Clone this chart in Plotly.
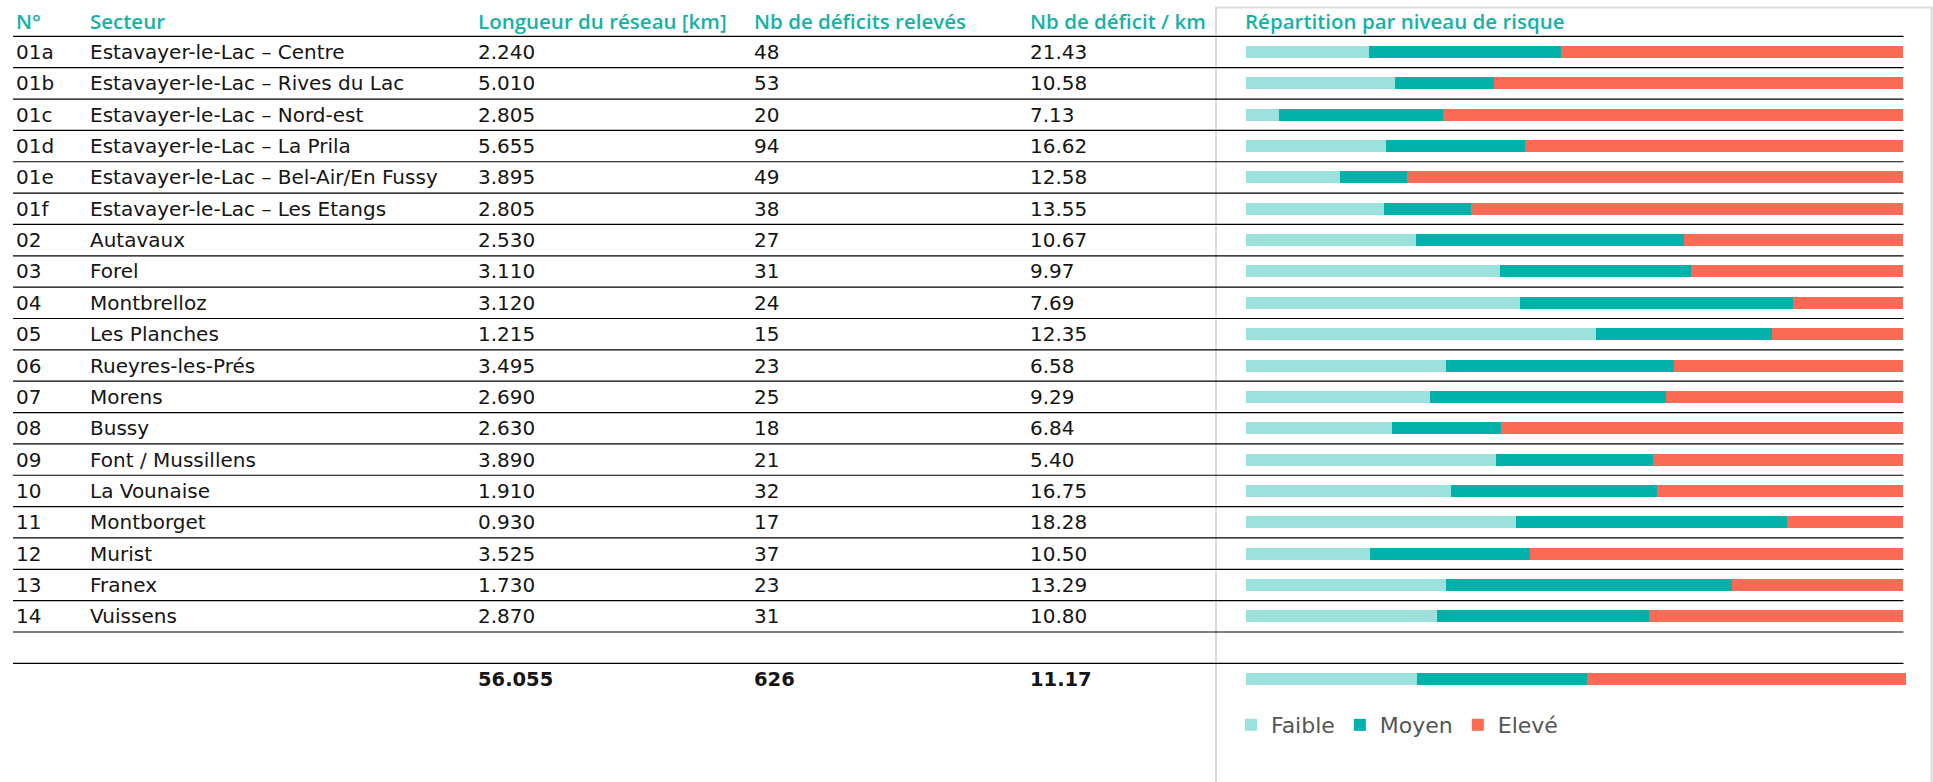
import plotly.graph_objects as go

W, H = 1933, 782

# ---------------- data ----------------
ids = ["01a", "01b", "01c", "01d", "01e", "01f", "02", "03", "04", "05",
       "06", "07", "08", "09", "10", "11", "12", "13", "14"]
sectors = ["Estavayer-le-Lac – Centre", "Estavayer-le-Lac – Rives du Lac",
           "Estavayer-le-Lac – Nord-est", "Estavayer-le-Lac – La Prila",
           "Estavayer-le-Lac – Bel-Air/En Fussy", "Estavayer-le-Lac – Les Etangs",
           "Autavaux", "Forel", "Montbrelloz", "Les Planches", "Rueyres-les-Prés",
           "Morens", "Bussy", "Font / Mussillens", "La Vounaise", "Montborget",
           "Murist", "Franex", "Vuissens"]
lengths_km = [2.240, 5.010, 2.805, 5.655, 3.895, 2.805, 2.530, 3.110, 3.120, 1.215,
              3.495, 2.690, 2.630, 3.890, 1.910, 0.930, 3.525, 1.730, 2.870]
deficits = [48, 53, 20, 94, 49, 38, 27, 31, 24, 15, 23, 25, 18, 21, 32, 17, 37, 23, 31]
deficits_per_km = [21.43, 10.58, 7.13, 16.62, 12.58, 13.55, 10.67, 9.97, 7.69, 12.35,
                   6.58, 9.29, 6.84, 5.40, 16.75, 18.28, 10.50, 13.29, 10.80]
faible = [9, 12, 1, 20, 7, 8, 7, 12, 10, 8, 7, 7, 4, 8, 10, 7, 7, 7, 9]
moyen = [14, 8, 5, 20, 5, 5, 11, 9, 10, 4, 8, 9, 3, 5, 10, 7, 9, 10, 10]
eleve = [25, 33, 14, 54, 37, 25, 9, 10, 4, 3, 8, 9, 11, 8, 12, 3, 21, 6, 12]
total_length = "56.055"
total_deficits = "626"
total_per_km = "11.17"
total_faible, total_moyen, total_eleve = 162, 162, 302

headers = ["N°", "Secteur", "Longueur du réseau [km]", "Nb de déficits relevés",
           "Nb de déficit / km", "Répartition par niveau de risque"]
levels = ["Faible", "Moyen", "Elevé"]
colors = ["#9de1dc", "#02b2aa", "#fa6a55"]

# ---------------- layout geometry (pixels) ----------------
row_h = 31.35
row0 = 52.0
def yval(py):
    return (py - row0) / row_h
def xp(px):
    return px / W

col_x = [13.5, 88, 476, 752, 1028, 1243]
bar_x0, bar_x1, tot_x1 = 1245.7, 1903.0, 1906.0
n = len(ids)
total_row = n + 1

fig = go.Figure()
rows = list(range(n))
for lev, vals, col in zip(levels, [faible, moyen, eleve], colors):
    fig.add_trace(go.Bar(y=rows, x=vals, orientation="h", name=lev,
                         marker=dict(color=col, line=dict(width=0)),
                         width=12 / row_h, xaxis="x", yaxis="y",
                         hoverinfo="skip"))
for lev, val, col in zip(levels, [total_faible, total_moyen, total_eleve], colors):
    fig.add_trace(go.Bar(y=[total_row], x=[val], orientation="h", name=lev,
                         marker=dict(color=col, line=dict(width=0)),
                         width=12 / row_h, xaxis="x2", yaxis="y",
                         showlegend=False, hoverinfo="skip"))

ann = []
teal = "#16b1a5"
txt = "#151515"
BODY = "DejaVu Sans"
HEAD = "Open Sans"
for j, h in enumerate(headers):
    ann.append(dict(x=xp(col_x[j]), y=yval(21), xref="paper", yref="y", text=h,
                    showarrow=False, xanchor="left", yanchor="middle",
                    font=dict(family=HEAD, size=20.5, color=teal, weight=600)))
for i in range(n):
    vals = [ids[i], sectors[i], f"{lengths_km[i]:.3f}", str(deficits[i]),
            f"{deficits_per_km[i]:.2f}"]
    for j, v in enumerate(vals):
        ann.append(dict(x=xp(col_x[j]), y=i, xref="paper", yref="y", text=v,
                        showarrow=False, xanchor="left", yanchor="middle",
                        font=dict(family=BODY, size=20, color=txt)))
for j, v in zip([2, 3, 4], [total_length, total_deficits, total_per_km]):
    ann.append(dict(x=xp(col_x[j]), y=total_row, xref="paper", yref="y", text=v,
                    showarrow=False, xanchor="left", yanchor="middle",
                    font=dict(family=BODY, size=19.5, color=txt, weight="bold")))

shapes = []
# panel box
shapes.append(dict(type="rect", xref="paper", yref="paper",
                   x0=xp(1216), x1=xp(1931.5), y0=-0.05, y1=1 - 7.5 / H,
                   line=dict(color="#dcdcdc", width=2), fillcolor="rgba(0,0,0,0)",
                   layer="below"))
for k in range(n + 2):
    yk = k - 0.5
    shapes.append(dict(type="line", xref="paper", yref="y",
                       x0=xp(13), x1=xp(1903.5), y0=yk, y1=yk,
                       line=dict(color="#000000", width=1.2)))

fig.update_layout(
    width=W, height=H,
    margin=dict(l=0, r=0, t=0, b=0),
    paper_bgcolor="white", plot_bgcolor="rgba(0,0,0,0)",
    barmode="stack", barnorm="fraction",
    xaxis=dict(domain=[xp(bar_x0), xp(bar_x1)], range=[0, 1], visible=False,
               fixedrange=True),
    xaxis2=dict(domain=[xp(bar_x0), xp(tot_x1)], range=[0, 1], visible=False,
                anchor="y", fixedrange=True),
    yaxis=dict(domain=[0, 1], range=[yval(H), yval(0)], visible=False,
               fixedrange=True),
    annotations=ann,
    shapes=shapes,
    showlegend=True,
    legend=dict(orientation="h", x=xp(1231), y=1 - 725 / H, xanchor="left",
                yanchor="middle", font=dict(family=BODY, size=22, color="#555555"),
                itemwidth=30, traceorder="normal", bgcolor="rgba(0,0,0,0)"),
)

fig.write_html("out.html", config={"displayModeBar": False},
               post_script="document.body.style.margin='0';")
